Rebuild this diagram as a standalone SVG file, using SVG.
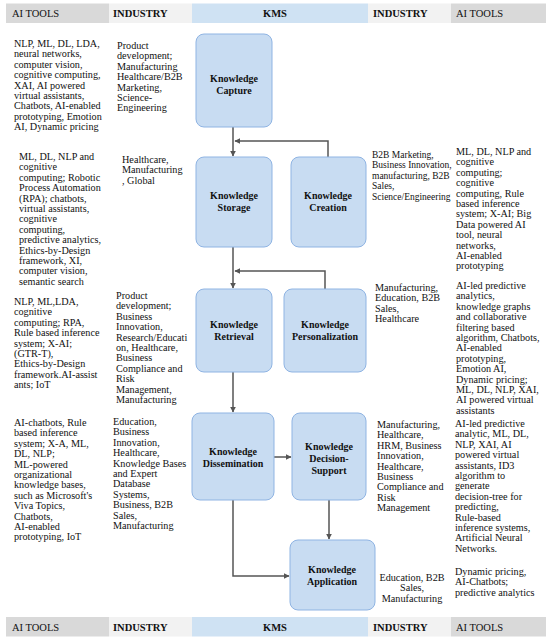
<svg xmlns="http://www.w3.org/2000/svg" width="550" height="639" viewBox="0 0 550 639">
<defs>
<style>
.t{font-family:"Liberation Serif","Times New Roman",serif;font-size:10.2px;fill:#111}
.s{font-size:9.5px}
.h{font-family:"Liberation Serif","Times New Roman",serif;font-size:10.5px;fill:#111}
.hb{font-weight:bold}
.n{font-family:"Liberation Serif","Times New Roman",serif;font-size:10px;font-weight:bold;fill:#111;text-anchor:middle}
.box{fill:#c8dcf2;stroke:#8fb4e3;stroke-width:1}
.gray{fill:#d9d9d9}.lt{fill:#f2f2f2}.blue{fill:#cfe2f3}
.c{fill:none;stroke:#555;stroke-width:1.5}
</style>
<marker id="ah" viewBox="0 0 10 10" refX="9" refY="5" markerWidth="6" markerHeight="6" orient="auto" markerUnits="userSpaceOnUse">
<path d="M0,0 L10,5 L0,10 z" fill="#555"/>
</marker>
</defs>
<rect width="550" height="639" fill="#fff"/>

<g id="header">
<rect class="gray" x="6" y="3.5" width="103" height="19.5"/>
<rect class="lt" x="109" y="3.5" width="83" height="19.5"/>
<rect class="blue" x="192" y="3.5" width="176" height="19.5"/>
<rect class="lt" x="368" y="3.5" width="83" height="19.5"/>
<rect class="gray" x="451" y="3.5" width="95" height="19.5"/>
<text class="h" x="12" y="17">AI TOOLS</text>
<text class="h hb" x="113" y="17">INDUSTRY</text>
<text class="h hb" x="275" y="17" text-anchor="middle">KMS</text>
<text class="h hb" x="373" y="17">INDUSTRY</text>
<text class="h" x="456" y="17">AI TOOLS</text>
</g>

<g id="footer">
<rect class="gray" x="6" y="617" width="103" height="19.5"/>
<rect class="lt" x="109" y="617" width="83" height="19.5"/>
<rect class="blue" x="192" y="617" width="176" height="19.5"/>
<rect class="lt" x="368" y="617" width="83" height="19.5"/>
<rect class="gray" x="451" y="617" width="95" height="19.5"/>
<text class="h" x="12" y="630.5">AI TOOLS</text>
<text class="h hb" x="113" y="630.5">INDUSTRY</text>
<text class="h hb" x="275" y="630.5" text-anchor="middle">KMS</text>
<text class="h hb" x="373" y="630.5">INDUSTRY</text>
<text class="h" x="456" y="630.5">AI TOOLS</text>
</g>

<g id="connectors">
<line class="c" x1="233" y1="127" x2="233" y2="156" marker-end="url(#ah)"/>
<polyline class="c" points="328,157 328,141 235,141" marker-end="url(#ah)"/>
<line class="c" x1="233" y1="247" x2="233" y2="288" marker-end="url(#ah)"/>
<polyline class="c" points="325,289 325,271 235,271" marker-end="url(#ah)"/>
<line class="c" x1="233" y1="372" x2="233" y2="412" marker-end="url(#ah)"/>
<line class="c" x1="274" y1="457" x2="291" y2="457" marker-end="url(#ah)"/>
<line class="c" x1="329" y1="500" x2="329" y2="539" marker-end="url(#ah)"/>
<polyline class="c" points="233,500 233,576 289,576" marker-end="url(#ah)"/>
</g>

<g id="capture"><rect class="box" x="196" y="34" width="76" height="93" rx="8"/>
<text class="n" x="234" y="82">Knowledge</text><text class="n" x="234" y="94">Capture</text></g>
<g id="storage"><rect class="box" x="196" y="157" width="76" height="90" rx="8"/>
<text class="n" x="234" y="199">Knowledge</text><text class="n" x="234" y="211">Storage</text></g>
<g id="creation"><rect class="box" x="291" y="157" width="75" height="90" rx="8"/>
<text class="n" x="328" y="199">Knowledge</text><text class="n" x="328" y="211">Creation</text></g>
<g id="retrieval"><rect class="box" x="196" y="289" width="76" height="83" rx="8"/>
<text class="n" x="234" y="328">Knowledge</text><text class="n" x="234" y="340">Retrieval</text></g>
<g id="personalization"><rect class="box" x="284" y="289" width="82" height="83" rx="8"/>
<text class="n" x="325" y="328">Knowledge</text><text class="n" x="325" y="340">Personalization</text></g>
<g id="dissemination"><rect class="box" x="192" y="413" width="82" height="87" rx="8"/>
<text class="n" x="233" y="455">Knowledge</text><text class="n" x="233" y="467">Dissemination</text></g>
<g id="decision"><rect class="box" x="292" y="413" width="74" height="87" rx="8"/>
<text class="n" x="329" y="450">Knowledge</text><text class="n" x="329" y="462">Decision-</text><text class="n" x="329" y="474">Support</text></g>
<g id="application"><rect class="box" x="290" y="540" width="85" height="70" rx="8"/>
<text class="n" x="332" y="573">Knowledge</text><text class="n" x="332" y="585">Application</text></g>

<g id="ai-left">
<text class="t" x="14" y="47"><tspan x="14">NLP, ML, DL, LDA,</tspan><tspan x="14" dy="10.4">neural networks,</tspan><tspan x="14" dy="10.4">computer vision,</tspan><tspan x="14" dy="10.4">cognitive computing,</tspan><tspan x="14" dy="10.4">XAI, AI powered</tspan><tspan x="14" dy="10.4">virtual assistants,</tspan><tspan x="14" dy="10.4">Chatbots, AI-enabled</tspan><tspan x="14" dy="10.4">prototyping,  Emotion</tspan><tspan x="14" dy="10.4">AI, Dynamic pricing</tspan></text>
<text class="t" x="19" y="160"><tspan x="19">ML, DL, NLP and</tspan><tspan x="19" dy="10.4">cognitive</tspan><tspan x="19" dy="10.4">computing; Robotic</tspan><tspan x="19" dy="10.4">Process Automation</tspan><tspan x="19" dy="10.4">(RPA);  chatbots,</tspan><tspan x="19" dy="10.4">virtual assistants,</tspan><tspan x="19" dy="10.4">cognitive</tspan><tspan x="19" dy="10.4">computing,</tspan><tspan x="19" dy="10.4">predictive analytics,</tspan><tspan x="19" dy="10.4">Ethics-by-Design</tspan><tspan x="19" dy="10.4">framework, XI,</tspan><tspan x="19" dy="10.4">computer vision,</tspan><tspan x="19" dy="10.4">semantic search</tspan></text>
<text class="t" x="14" y="305"><tspan x="14">NLP, ML,LDA,</tspan><tspan x="14" dy="10.4">cognitive</tspan><tspan x="14" dy="10.4">computing; RPA,</tspan><tspan x="14" dy="10.4">Rule based inference</tspan><tspan x="14" dy="10.4">system; X-AI;</tspan><tspan x="14" dy="10.4">(GTR-T),</tspan><tspan x="14" dy="10.4">Ethics-by-Design</tspan><tspan x="14" dy="10.4">framework.AI-assist</tspan><tspan x="14" dy="10.4">ants; IoT</tspan></text>
<text class="t" x="14" y="426"><tspan x="14">AI-chatbots, Rule</tspan><tspan x="14" dy="10.4">based inference</tspan><tspan x="14" dy="10.4">system; X-A, ML,</tspan><tspan x="14" dy="10.4">DL, NLP;</tspan><tspan x="14" dy="10.4">ML-powered</tspan><tspan x="14" dy="10.4">organizational</tspan><tspan x="14" dy="10.4">knowledge bases,</tspan><tspan x="14" dy="10.4">such as Microsoft's</tspan><tspan x="14" dy="10.4">Viva Topics,</tspan><tspan x="14" dy="10.4">Chatbots,</tspan><tspan x="14" dy="10.4">AI-enabled</tspan><tspan x="14" dy="10.4">prototyping, IoT</tspan></text>
</g>

<g id="industry-left">
<text class="t" x="117" y="49"><tspan x="117">Product</tspan><tspan x="117" dy="10.4">development;</tspan><tspan x="117" dy="10.4">Manufacturing</tspan><tspan x="117" dy="10.4">Healthcare/B2B</tspan><tspan x="117" dy="10.4">Marketing,</tspan><tspan x="117" dy="10.4">Science-</tspan><tspan x="117" dy="10.4">Engineering</tspan></text>
<text class="t" x="122" y="163"><tspan x="122">Healthcare,</tspan><tspan x="122" dy="10.4">Manufacturing</tspan><tspan x="122" dy="10.4">, Global</tspan></text>
<text class="t" x="116" y="299"><tspan x="116">Product</tspan><tspan x="116" dy="10.4">development;</tspan><tspan x="116" dy="10.4">Business</tspan><tspan x="116" dy="10.4">Innovation,</tspan><tspan x="116" dy="10.4">Research/Educati</tspan><tspan x="116" dy="10.4">on, Healthcare,</tspan><tspan x="116" dy="10.4">Business</tspan><tspan x="116" dy="10.4">Compliance and</tspan><tspan x="116" dy="10.4">Risk</tspan><tspan x="116" dy="10.4">Management,</tspan><tspan x="116" dy="10.4">Manufacturing</tspan></text>
<text class="t" x="113" y="425"><tspan x="113">Education,</tspan><tspan x="113" dy="10.4">Business</tspan><tspan x="113" dy="10.4">Innovation,</tspan><tspan x="113" dy="10.4">Healthcare,</tspan><tspan x="113" dy="10.4">Knowledge Bases</tspan><tspan x="113" dy="10.4">and Expert</tspan><tspan x="113" dy="10.4">Database</tspan><tspan x="113" dy="10.4">Systems,</tspan><tspan x="113" dy="10.4">Business, B2B</tspan><tspan x="113" dy="10.4">Sales,</tspan><tspan x="113" dy="10.4">Manufacturing</tspan></text>
</g>

<g id="industry-right">
<text class="t s" x="372" y="158"><tspan x="372">B2B Marketing,</tspan><tspan x="372" dy="10.4">Business Innovation,</tspan><tspan x="372" dy="10.4">manufacturing, B2B</tspan><tspan x="372" dy="10.4">Sales,</tspan><tspan x="372" dy="10.4">Science/Engineering</tspan></text>
<text class="t" x="375" y="291"><tspan x="375">Manufacturing,</tspan><tspan x="375" dy="10.4">Education, B2B</tspan><tspan x="375" dy="10.4">Sales,</tspan><tspan x="375" dy="10.4">Healthcare</tspan></text>
<text class="t" x="377" y="428"><tspan x="377">Manufacturing,</tspan><tspan x="377" dy="10.4">Healthcare,</tspan><tspan x="377" dy="10.4">HRM, Business</tspan><tspan x="377" dy="10.4">Innovation,</tspan><tspan x="377" dy="10.4">Healthcare,</tspan><tspan x="377" dy="10.4">Business</tspan><tspan x="377" dy="10.4">Compliance and</tspan><tspan x="377" dy="10.4">Risk</tspan><tspan x="377" dy="10.4">Management</tspan></text>
<text class="t" x="412" y="581" text-anchor="middle"><tspan x="412">Education, B2B</tspan><tspan x="412" dy="10.4">Sales,</tspan><tspan x="412" dy="10.4">Manufacturing</tspan></text>
</g>

<g id="ai-right">
<text class="t" x="456" y="155"><tspan x="456">ML, DL, NLP and</tspan><tspan x="456" dy="10.4">cognitive</tspan><tspan x="456" dy="10.4">computing;</tspan><tspan x="456" dy="10.4">cognitive</tspan><tspan x="456" dy="10.4">computing, Rule</tspan><tspan x="456" dy="10.4">based inference</tspan><tspan x="456" dy="10.4">system; X-AI; Big</tspan><tspan x="456" dy="10.4">Data powered AI</tspan><tspan x="456" dy="10.4">tool, neural</tspan><tspan x="456" dy="10.4">networks,</tspan><tspan x="456" dy="10.4">AI-enabled</tspan><tspan x="456" dy="10.4">prototyping</tspan></text>
<text class="t" x="456" y="289"><tspan x="456">AI-led predictive</tspan><tspan x="456" dy="10.4">analytics,</tspan><tspan x="456" dy="10.4">knowledge graphs</tspan><tspan x="456" dy="10.4">and collaborative</tspan><tspan x="456" dy="10.4">filtering based</tspan><tspan x="456" dy="10.4">algorithm, Chatbots,</tspan><tspan x="456" dy="10.4">AI-enabled</tspan><tspan x="456" dy="10.4">prototyping,</tspan><tspan x="456" dy="10.4">Emotion AI,</tspan><tspan x="456" dy="10.4">Dynamic pricing;</tspan><tspan x="456" dy="10.4">ML, DL, NLP, XAI,</tspan><tspan x="456" dy="10.4">AI powered virtual</tspan><tspan x="456" dy="10.4">assistants</tspan></text>
<text class="t" x="455" y="427"><tspan x="455">AI-led predictive</tspan><tspan x="455" dy="10.4">analytic, ML, DL,</tspan><tspan x="455" dy="10.4">NLP, XAI, AI</tspan><tspan x="455" dy="10.4">powered virtual</tspan><tspan x="455" dy="10.4">assistants, ID3</tspan><tspan x="455" dy="10.4">algorithm to</tspan><tspan x="455" dy="10.4">generate</tspan><tspan x="455" dy="10.4">decision-tree for</tspan><tspan x="455" dy="10.4">predicting,</tspan><tspan x="455" dy="10.4">Rule-based</tspan><tspan x="455" dy="10.4">inference systems,</tspan><tspan x="455" dy="10.4">Artificial Neural</tspan><tspan x="455" dy="10.4">Networks.</tspan></text>
<text class="t" x="455" y="575"><tspan x="455">Dynamic pricing,</tspan><tspan x="455" dy="10.4">AI-Chatbots;</tspan><tspan x="455" dy="10.4">predictive analytics</tspan></text>
</g>
</svg>
